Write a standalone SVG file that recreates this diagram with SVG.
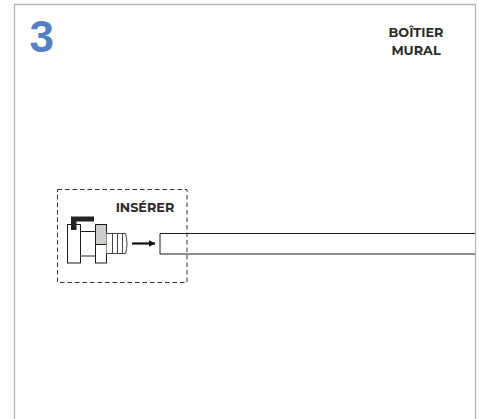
<svg xmlns="http://www.w3.org/2000/svg" width="479" height="419" viewBox="0 0 479 419">
<style>
.t{font-family:"Montserrat","Lato","Liberation Sans",sans-serif;font-weight:700;fill:#2b2a29}
.l{fill:#fff;stroke:#1a1a1a;stroke-width:1}
.o{fill:none;stroke:#1a1a1a;stroke-width:1}
</style>
<defs><marker id="a" markerWidth="7" markerHeight="8" refX="6.500" refY="4" orient="auto" markerUnits="userSpaceOnUse"><path d="M0 .5L7 4L0 7.500z" fill="#111"/></marker></defs>
<rect width="479" height="419" fill="#fff"/>
<path d="M14.500 419V4.500H475.500V419" fill="none" stroke="#b5b5b5" stroke-width="1.300"/>
<text x="29.500" y="51.500" font-family="Liberation Sans,sans-serif" font-weight="700" font-size="44" fill="#5480c1">3</text>
<g id="label-boitier" class="t" font-size="12.800" text-anchor="middle"><text x="416" y="36.500">BOÎTIER</text><text x="416" y="55">MURAL</text></g>
<g id="tube"><path d="M475 233.500H160V254H475" fill="#fff" stroke="#1a1a1a"/></g>
<g id="connectors"><path d="M132 243.500H155" stroke="#111" stroke-width="2.200" fill="none" marker-end="url(#a)"/></g>
<g id="frame"><rect x="57.500" y="189.500" width="129.500" height="93" fill="none" stroke="#333" stroke-width="1" stroke-dasharray="4.500 3"/></g>
<text class="t" x="145" y="211.500" font-size="12.800" text-anchor="middle">INSÉRER</text>
<g id="fitting">
<rect class="l" x="67.500" y="224.500" width="13" height="38.500"/>
<rect class="l" x="80.500" y="231.500" width="15" height="24.500"/>
<path d="M80.500 256H95.500" stroke="#999" stroke-width="1.200"/>
<rect class="l" x="95.500" y="224.500" width="11" height="38.500"/>
<rect x="96" y="225" width="10" height="19" fill="#d0cdc9"/>
<path class="o" d="M95.500 244.500H106.500"/>
<path d="M106.500 233.500H125.500Q127 239 127 243.500T125.500 253.500H106.500" fill="#fff" stroke="#444"/>
<path d="M112.500 233.500V253.500M117.500 233.500V253.500M122.500 233.500V253.500" stroke="#444" fill="none"/>
<path d="M71 230V216.500H94V221.500H76.500V230z" fill="#222"/>
</g>
</svg>
